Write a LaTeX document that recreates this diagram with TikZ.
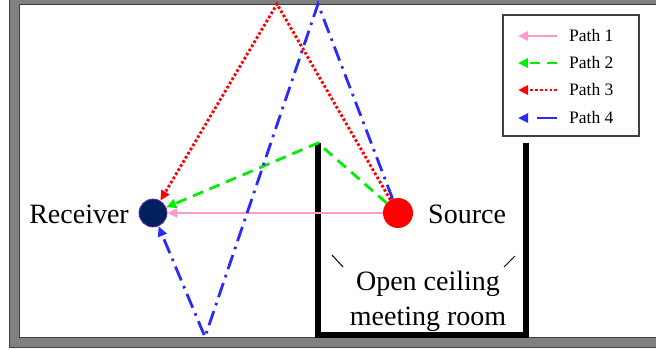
\documentclass[tikz,border=0pt]{standalone}
\usepackage{fontspec}
\setmainfont{Liberation Serif}
\usetikzlibrary{arrows.meta}
\definecolor{pinkp}{HTML}{FF99CC}
\definecolor{greenp}{HTML}{00EE00}
\definecolor{redp}{HTML}{FF0000}
\definecolor{bluep}{HTML}{2A2AFF}
\definecolor{navy}{HTML}{002060}
\definecolor{rimc}{HTML}{7030A0}
\definecolor{framegray}{HTML}{808080}
\definecolor{framedark}{HTML}{404040}
\tikzset{
  tip/.style={-{Triangle[length=10pt,width=9pt]}},
  pathone/.style={tip, draw=pinkp, line width=2.8pt},
  pathtwo/.style={tip, draw=greenp, line width=2.8pt, dash pattern=on 11pt off 7pt},
  paththree/.style={tip, draw=redp, line width=2.9pt, dash pattern=on 2.6pt off 2.2pt},
  pathfour/.style={tip, draw=bluep, line width=2.8pt, dash pattern=on 15pt off 6pt on 2.6pt off 6pt},
  wall/.style={line width=6.5pt, draw=black, line join=miter},
  bigtext/.style={font=\fontsize{28}{35}\selectfont, inner sep=0pt},
  legtext/.style={font=\fontsize{17.5}{20}\selectfont, inner sep=0pt, anchor=west},
  tick/.style={draw=black, line width=1pt},
}
\begin{document}
\begin{tikzpicture}[x=1pt, y=-1pt]
\useasboundingbox (0,0) rectangle (656,349);
% outer frame
\fill[framegray] (9,-10) rectangle (670,348);
\fill[white] (20,5) rectangle (670,337);
\draw[framedark, line width=1pt] (9.5,-10) -- (9.5,347.5) -- (670,347.5);
\draw[framedark, line width=1pt] (670,4.5) -- (19.5,4.5) -- (19.5,337.5) -- (670,337.5);
% room walls
\draw[wall] (318,143) -- (318,335) -- (526,335) -- (526,143);
\draw[tick] (332,255) -- (343,267);
\draw[tick] (515,256) -- (504,267);
\node[bigtext, align=center] (room) at (428,301) {Open ceiling\\meeting room};
% receiver and source
\node[circle, fill=navy, draw=rimc, line width=0.8pt, minimum size=28pt, inner sep=0pt] (receiver) at (153,213) {};
\node[circle, fill=redp, minimum size=30pt, inner sep=0pt] (source) at (398,213) {};
\node[bigtext, anchor=east] (rlabel) at (129,214) {Receiver};
\node[bigtext, anchor=west] (slabel) at (428,214) {Source};
% reflection points
\coordinate (p2) at (318,143);
\coordinate (p3) at (277,4);
\coordinate (p4a) at (318,4);
\coordinate (p4b) at (205,337);
% paths
\draw[pathone] (source) -- (receiver);
\draw[pathtwo] (source) -- (p2) -- (receiver);
\draw[paththree] (source) -- (p3) -- (receiver);
\draw[pathfour] (source) -- (p4a) -- (p4b) -- (receiver);
% legend
\node[draw=framedark, line width=1.2pt, fill=white, minimum width=136pt, minimum height=121pt, inner sep=0pt] (legend) at (571,75.5) {};
\coordinate (l1a) at (557,36); \coordinate (l1b) at (518,36);
\coordinate (l2a) at (557,63); \coordinate (l2b) at (518,63);
\coordinate (l3a) at (557,90); \coordinate (l3b) at (518,90);
\coordinate (l4a) at (557,118); \coordinate (l4b) at (518,118);
\draw[pathone, line width=2.4pt] (l1a) -- (l1b);
\draw[pathtwo, line width=2.4pt, dash pattern=on 10pt off 7pt] (l2a) -- (l2b);
\draw[paththree, line width=2.6pt] (l3a) -- (l3b);
\draw[pathfour, line width=2.4pt, dash pattern=on 20pt off 12pt] (l4a) -- (l4b);
\node[legtext] (t1) at (569,36) {Path 1};
\node[legtext] (t2) at (569,63) {Path 2};
\node[legtext] (t3) at (569,90) {Path 3};
\node[legtext] (t4) at (569,118) {Path 4};
\end{tikzpicture}
\end{document}
